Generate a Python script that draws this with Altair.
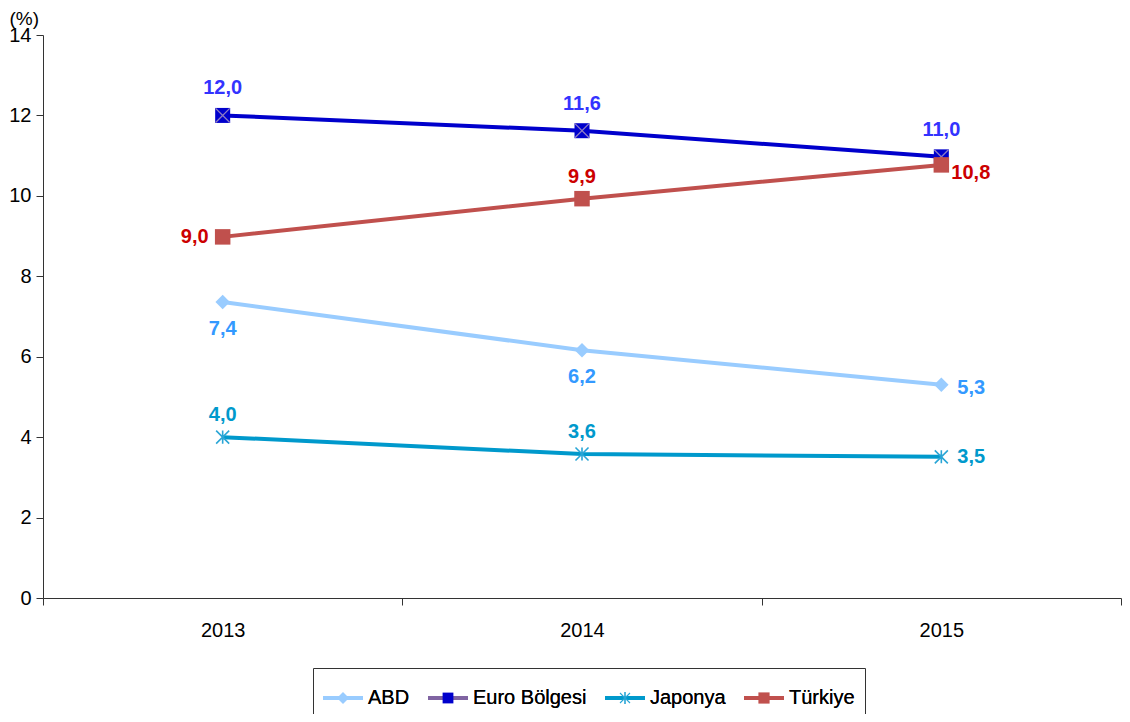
import altair as alt
import pandas as pd

FONT = "Liberation Sans"

years = ["2013", "2014", "2015"]
series = ["ABD", "Euro Bölgesi", "Japonya", "Türkiye"]
abd = [7.36, 6.16, 5.30]
euro = [12.0, 11.62, 10.97]
japonya = [4.0, 3.58, 3.51]
turkiye = [8.98, 9.93, 10.77]
label_pos = {
    "ABD": ["below", "below", "right"],
    "Euro Bölgesi": ["high", "high", "high"],
    "Japonya": ["above", "above", "right0"],
    "Türkiye": ["left", "above", "rightlow"],
}

values = {"ABD": abd, "Euro Bölgesi": euro, "Japonya": japonya, "Türkiye": turkiye}
rows = []
for s in series:
    for i, yr in enumerate(years):
        rows.append({"year": yr, "series": s, "value": values[s][i], "pos": label_pos[s][i]})
df = pd.DataFrame(rows)

line_colors = {"ABD": "#99CCFF", "Euro Bölgesi": "#0000CC", "Japonya": "#0099CC", "Türkiye": "#C0504D"}
text_colors = {"ABD": "#3399FF", "Euro Bölgesi": "#3333FF", "Japonya": "#0099CC", "Türkiye": "#CC0000"}
legend_line_colors = ["#99CCFF", "#8064A2", "#0099CC", "#C0504D"]
legend_marker_colors = ["#99CCFF", "#0000CC", "#2AA6D6", "#C0504D"]

offsets = {
    "above": (0, -22, "center"),
    "high": (0, -27, "center"),
    "below": (0, 27, "center"),
    "left": (-14, 0, "right"),
    "right": (16, 3, "left"),
    "right0": (16, 0, "left"),
    "rightlow": (10, 8, "left"),
}

base = alt.Chart(df)

x = alt.X(
    "year:O",
    scale=alt.Scale(type="band", domain=years, paddingInner=0, paddingOuter=0),
    bandPosition=0.5,
    axis=alt.Axis(title=None, labelAngle=0, tickBand="extent", tickSize=7, labelPadding=15,
                  domainColor="#333333", tickColor="#333333", labelColor="black",
                  labelFont=FONT, labelFontSize=20, grid=False),
)
y = alt.Y(
    "value:Q",
    scale=alt.Scale(domain=[0, 14], nice=False),
    axis=alt.Axis(values=list(range(0, 15, 2)), title="(%)", titleAngle=0, titleAlign="left",
                  titleBaseline="middle", titleX=-34, titleY=-17, titleFontWeight="normal",
                  titleFont=FONT, titleFontSize=19, titleColor="black",
                  tickSize=7, labelPadding=5, domainColor="#333333", tickColor="#333333",
                  labelColor="black", labelFont=FONT, labelFontSize=20, grid=False),
)

X_PATH = "M-1,-1L1,1M-1,1L1,-1"
STAR_PATH = "M0,-1L0,1M-1,-1L1,1M-1,1L1,-1"

layers = []
for s in series:
    sub = base.transform_filter(alt.datum.series == s)
    layers.append(sub.mark_line(color=line_colors[s], strokeWidth=4).encode(x=x, y=y))
    if s == "ABD":
        layers.append(sub.mark_point(shape="diamond", filled=True, size=210, color="#99CCFF", opacity=1).encode(x=x, y=y))
    elif s == "Euro Bölgesi":
        layers.append(sub.mark_point(shape="square", filled=True, size=225, color="#0000CC", opacity=1).encode(x=x, y=y))
        layers.append(sub.mark_point(shape=X_PATH, filled=False, size=200, color="#8E7CC3", strokeWidth=1.3, opacity=1).encode(x=x, y=y))
    elif s == "Japonya":
        layers.append(sub.mark_point(shape=STAR_PATH, filled=False, size=170, color="#2AA6D6", strokeWidth=1.6, opacity=1).encode(x=x, y=y))
    else:
        layers.append(sub.mark_point(shape="square", filled=True, size=240, color="#C0504D", opacity=1).encode(x=x, y=y))

for s in series:
    for p, (dx, dy, al) in offsets.items():
        if p not in label_pos[s]:
            continue
        layers.append(
            base.transform_filter((alt.datum.series == s) & (alt.datum.pos == p))
            .transform_calculate(lbl="replace(format(datum.value, '.1f'), '.', ',')")
            .mark_text(font=FONT, fontSize=20, fontWeight="bold", color=text_colors[s],
                       dx=dx, dy=dy, align=al, baseline="middle")
            .encode(x=x, y=y, text="lbl:N")
        )

LINE_SYM = "M-1,-0.1L1,-0.1L1,0.1L-1,0.1Z"
MARKER_SYMS = [
    "M0,-0.3L0.3,0L0,0.3L-0.3,0Z",
    "M-0.27,-0.27L0.27,-0.27L0.27,0.27L-0.27,0.27Z",
    "M-0.04,-0.3L0.04,-0.3L0.04,0.3L-0.04,0.3Z M-0.23,-0.27L0.27,0.23L0.23,0.27L-0.27,-0.23Z M0.27,-0.23L-0.23,0.27L-0.27,0.23L0.23,-0.27Z",
    "M-0.28,-0.28L0.28,-0.28L0.28,0.28L-0.28,0.28Z",
]

leg_common = dict(orient="none", legendX=270, legendY=633, direction="horizontal", columns=4,
                  title=None, symbolSize=1600, labelFontSize=20, labelFont=FONT, labelColor="black",
                  labelOffset=5, columnPadding=18, padding=10, symbolStrokeWidth=0, symbolOpacity=1,
                  labelLimit=400)

legend_line = base.mark_point(filled=True, opacity=0).encode(
    x=x, y=y,
    color=alt.Color("series:N", scale=alt.Scale(domain=series, range=legend_line_colors),
                    legend=alt.Legend(strokeColor="#333333", symbolType=LINE_SYM, **leg_common)),
)
legend_marker = base.mark_point(filled=True, opacity=0).encode(
    x=x, y=y,
    fill=alt.Fill("series:N", scale=alt.Scale(domain=series, range=legend_marker_colors),
                  legend=alt.Legend(**leg_common)),
    shape=alt.Shape("series:N", scale=alt.Scale(domain=series, range=MARKER_SYMS),
                    legend=alt.Legend(**leg_common)),
)
layers.append(legend_line)
layers.append(legend_marker)

chart = alt.layer(*layers).resolve_scale(color="independent", fill="independent", shape="independent").properties(
    width=1078, height=563,
    autosize=alt.AutoSizeParams(type="none"),
    padding={"left": 35, "top": 27, "right": 1, "bottom": 116},
).configure_view(stroke=None)

chart.save("out.html", embed_options={"renderer": "svg", "actions": False})
